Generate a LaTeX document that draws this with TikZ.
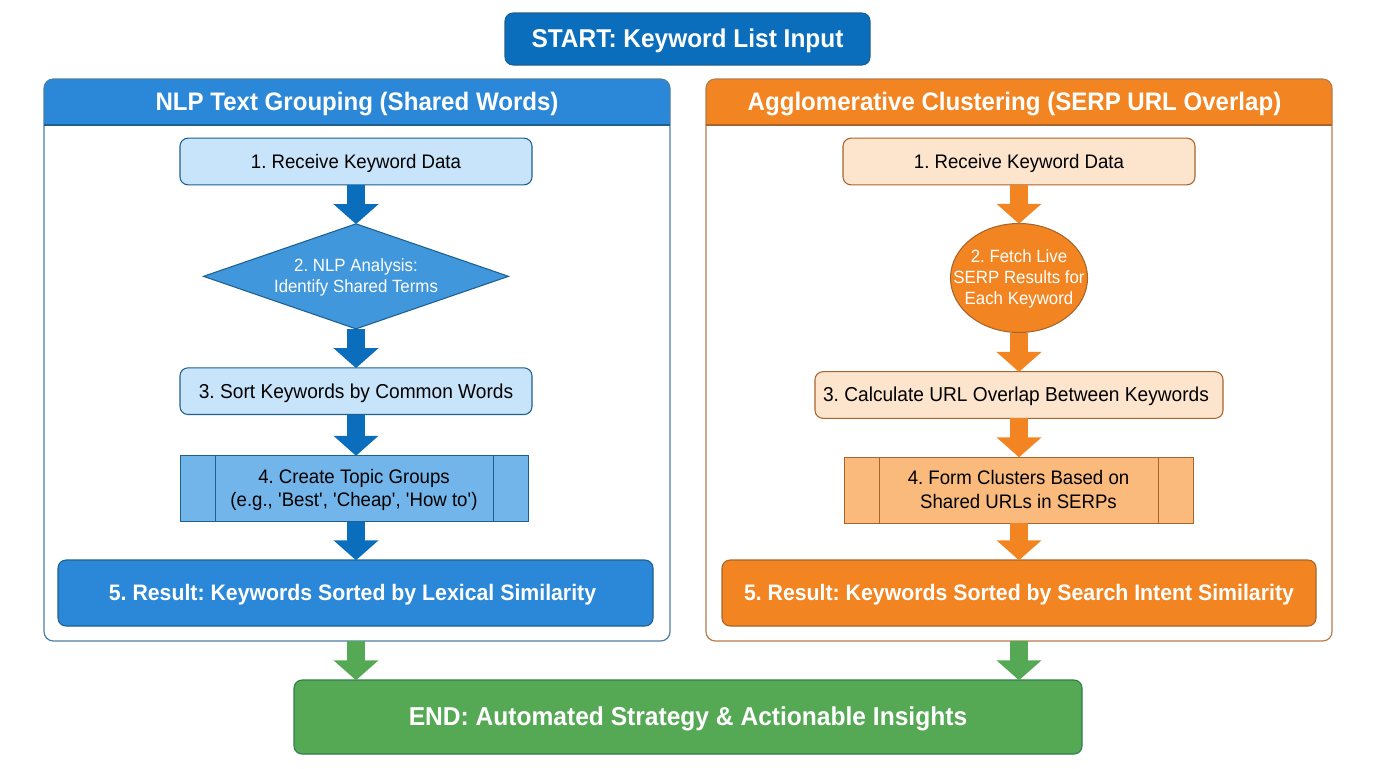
\documentclass[tikz,border=0pt]{standalone}
\usepackage{fontspec}
\setmainfont[FakeStretch=0.95]{Liberation Sans}
\usetikzlibrary{shapes.geometric, arrows.meta, positioning, backgrounds}
\definecolor{blueDark}{HTML}{0A6EBD}
\definecolor{blueHead}{HTML}{2B88D8}
\definecolor{blueMid}{HTML}{4197DC}
\definecolor{blueSub}{HTML}{72B5EA}
\definecolor{blueLight}{HTML}{C7E4FA}
\definecolor{blueEdge}{HTML}{1D5F8F}
\definecolor{orangeHead}{HTML}{F28522}
\definecolor{orangeSub}{HTML}{F9BA7C}
\definecolor{orangeLight}{HTML}{FDE4CD}
\definecolor{orangeEdge}{HTML}{A8642A}
\definecolor{greenEnd}{HTML}{55A854}
\definecolor{greenEdge}{HTML}{2E7D4A}
\frenchspacing

\begin{document}
\begin{tikzpicture}[
    x=0.75pt, y=-0.75pt,
    every node/.style={align=center, outer sep=0pt, inner sep=0pt, text depth=0.7pt},
    title/.style={font=\fontsize{19}{23}\selectfont\bfseries, text=white},
    body/.style={font=\fontsize{14.7}{17.5}\selectfont},
    widebody/.style={font=\fontsize{15.1}{17.5}\selectfont},
    box/.style={draw, rounded corners=6pt, line width=0.8pt},
    startbox/.style={box, title, font=\fontsize{19.3}{23}\selectfont\bfseries, draw=blueEdge, fill=blueDark, minimum width=273.75pt, minimum height=39pt},
    endbox/.style={box, title, font=\fontsize{19.4}{23}\selectfont\bfseries, draw=greenEdge, fill=greenEnd, minimum width=591pt, minimum height=55.5pt},
    panel/.style={rounded corners=7pt, line width=0.9pt, minimum width=469.5pt, minimum height=421.5pt},
    panelhead/.style={title, minimum width=469.5pt, minimum height=34.5pt},
    lstep/.style={box, body, draw=blueEdge, fill=blueLight, minimum width=264pt, minimum height=35pt},
    rstep/.style={box, body, draw=orangeEdge, fill=orangeLight, minimum height=35pt},
    lsub/.style={draw=blueEdge, body, fill=blueSub, line width=0.7pt, minimum width=261pt, minimum height=49.5pt},
    rsub/.style={draw=orangeEdge, body, fill=orangeSub, line width=0.7pt, minimum width=261.75pt, minimum height=49.5pt},
    lresult/.style={box, title, font=\fontsize{16.8}{21}\selectfont\bfseries, draw=blueEdge, fill=blueHead, minimum width=446.25pt, minimum height=49.5pt},
    rresult/.style={box, title, font=\fontsize{16.8}{21}\selectfont\bfseries, draw=orangeEdge, fill=orangeHead, minimum width=445.5pt, minimum height=49.5pt},
    whitetext/.style={font=\fontsize{13.3}{15.75}\selectfont, text=white},
    flow/.style={line width=13.5pt, -{Triangle[width=33pt,length=15pt]}, shorten >=-0.2pt},
  ]
    \useasboundingbox (0,0) rectangle (1376,768);

    % start and end
    \node[startbox] (start) at (687.5,39) {START: Keyword List Input};
    \node[endbox] (end) at (688,717) {END: Automated Strategy \& Actionable Insights};

    % left panel
    \node[panel, draw=blueEdge!80] (lpanel) at (357,360) {};
    \node[panelhead] (lhead) at (357,102) {NLP Text Grouping (Shared Words)};
    \node[lstep] (l1) at (356,161.5) {1. Receive Keyword Data};
    \node[diamond, draw=blueEdge, fill=blueMid, line width=0.8pt, aspect=2.9, minimum width=228.75pt, minimum height=78.75pt, below=29.25pt of l1] (l2) {};
    \node[whitetext] (l2text) at (l2.center) {2. NLP Analysis:\\Identify Shared Terms};
    \node[lstep, widebody, below=29.25pt of l2] (l3) {3. Sort Keywords by Common Words};
    \node[lsub, below=30.75pt of l3, xshift=-1.5pt] (l4) {4. Create Topic Groups\\(e.g., \textquotesingle Best\textquotesingle, \textquotesingle Cheap\textquotesingle, \textquotesingle How to\textquotesingle)};
    \node[lresult] (l5) at (355.5,593) {\hspace*{-4.5pt}5. Result: Keywords Sorted by Lexical Similarity};

    % right panel
    \node[panel, draw=orangeEdge!85] (rpanel) at (1019,360) {};
    \node[panelhead] (rhead) at (1019,102) {\hspace*{-6.75pt}Agglomerative Clustering (SERP URL Overlap)};
    \node[rstep, minimum width=264pt] (r1) at (1019,161.5) {1. Receive Keyword Data};
    \node[ellipse, draw=orangeEdge, fill=orangeHead, line width=0.8pt, minimum width=102.75pt, minimum height=81.75pt] (r2) at (1019,278) {};
    \node[whitetext] (r2text) at (r2.center) {2. Fetch Live\\SERP Results for\\Each Keyword};
    \node[rstep, widebody, minimum width=306pt] (r3) at (1019,395) {\hspace*{-4.5pt}3. Calculate URL Overlap Between Keywords};
    \node[rsub] (r4) at (1018.5,490) {4. Form Clusters Based on\\Shared URLs in SERPs};
    \node[rresult] (r5) at (1019,593) {5. Result: Keywords Sorted by Search Intent Similarity};

    % header bands
    \begin{scope}[on background layer]
      \fill[blueHead] (lhead.south west) [rounded corners=7pt] -- (lhead.north west) -- (lhead.north east) [sharp corners] -- (lhead.south east) -- cycle;
      \fill[orangeHead] (rhead.south west) [rounded corners=7pt] -- (rhead.north west) -- (rhead.north east) [sharp corners] -- (rhead.south east) -- cycle;
    \end{scope}
    \draw[blueEdge, line width=0.8pt] (lhead.south west) -- (lhead.south east);
    \draw[orangeEdge, line width=0.8pt] (rhead.south west) -- (rhead.south east);

    % side bars of the subprocess boxes
    \foreach \s/\c in {l4/blueEdge,r4/orangeEdge}{
      \draw[\c, line width=0.7pt] ([xshift=26.25pt]\s.north west) -- ([xshift=26.25pt]\s.south west);
      \draw[\c, line width=0.7pt] ([xshift=-26.25pt]\s.north east) -- ([xshift=-26.25pt]\s.south east);
    }

    % arrows
    \foreach \a/\b in {l1/l2,l2/l3}{
      \draw[flow, blueDark] (\a.south) -- (\b.north);
    }
    \draw[flow, blueDark] (l3.south) -- (l3.south |- l4.north);
    \draw[flow, blueDark] (l3.south |- l4.south) -- (l3.south |- l5.north);
    \foreach \a/\b in {r1/r2,r2/r3,r3/r4,r4/r5}{
      \draw[flow, orangeHead] (r1.south |- \a.south) -- (r1.south |- \b.north);
    }
    \draw[flow, greenEnd] (l3.south |- lpanel.south) -- (l3.south |- end.north);
    \draw[flow, greenEnd] (r1.south |- rpanel.south) -- (r1.south |- end.north);
  \end{tikzpicture}
\end{document}
